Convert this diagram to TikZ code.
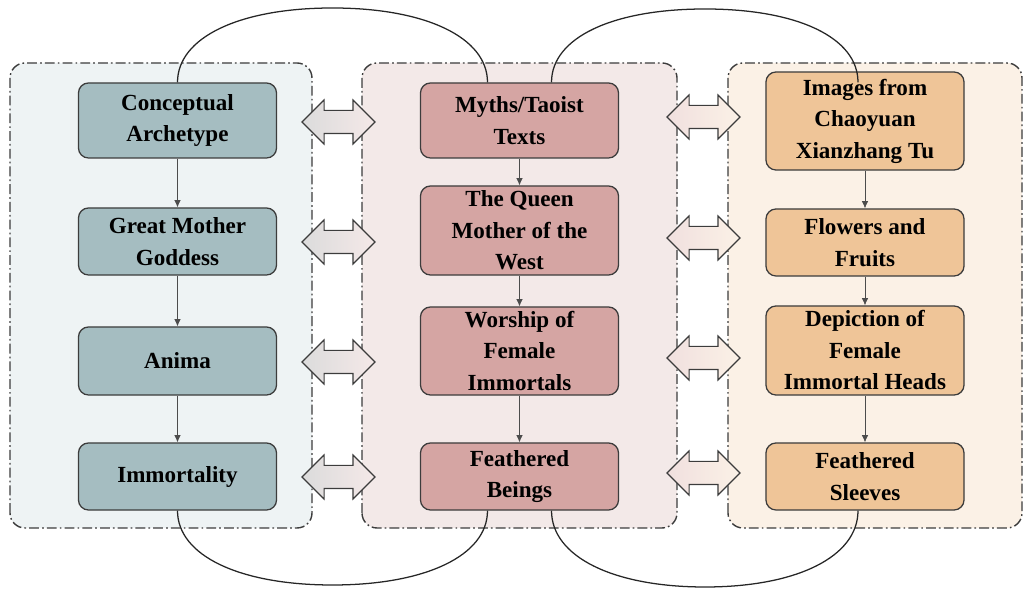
\documentclass[tikz,border=0pt]{standalone}
\usepackage{fontspec}
\setmainfont{Liberation Serif}
\usetikzlibrary{arrows.meta,shapes.arrows,calc}

\definecolor{leftbox}{HTML}{A5BDC1}
\definecolor{leftbg}{HTML}{EEF3F4}
\definecolor{midbox}{HTML}{D5A5A3}
\definecolor{midbg}{HTML}{F3E9E8}
\definecolor{rightbox}{HTML}{EFC598}
\definecolor{rightbg}{HTML}{FBF1E6}
\definecolor{edgegray}{HTML}{3C3C3C}

\tikzset{
    panel/.style={draw=edgegray, line width=1pt, rounded corners=0.375cm,
        dash pattern=on 7pt off 2.2pt on 1.2pt off 2.2pt},
    stage/.style={draw=edgegray, line width=0.9pt, rounded corners=0.25cm,
        align=center, inner sep=0pt, minimum width=4.95cm,
        font=\bfseries\fontsize{16.4pt}{22.4pt}\selectfont},
    link/.style={double arrow, draw=edgegray, line width=0.8pt,
        inner xsep=0pt, inner ysep=0.275cm, minimum height=1.825cm,
        double arrow head extend=0.2625cm},
    flow/.style={draw=black!70, line width=0.5pt, -{Latex[length=0.18cm,width=0.16cm]}},
    loop/.style={draw=black!85, line width=0.9pt}
}

\begin{document}
\begin{tikzpicture}[x=0.025cm, y=0.025cm]
        \useasboundingbox (0,0) rectangle (1027,590);
        % three dash-dot panels
        \draw[panel, fill=leftbg] (10,62) rectangle (312,527);
        \draw[panel, fill=midbg] (362,62) rectangle (677,527);
        \draw[panel, fill=rightbg] (728,62) rectangle (1022,527);

        % left column
        \node[stage, fill=leftbox, minimum height=1.875cm] (archetype) at (177.5,469.5) {Conceptual\\Archetype};
        \node[stage, fill=leftbox, minimum height=1.675cm] (goddess) at (177.5,348.5) {Great Mother\\Goddess};
        \node[stage, fill=leftbox, minimum height=1.7cm] (anima) at (177.5,229) {Anima};
        \node[stage, fill=leftbox, minimum height=1.675cm] (immortality) at (177.5,113.5) {Immortality};

        % middle column
        \node[stage, fill=midbox, minimum height=1.875cm] (myths) at (519.5,469.5) {Myths/Taoist\\Texts};
        \node[stage, fill=midbox, minimum height=2.225cm] (queen) at (519.5,359.5) {The Queen\\Mother of the\\West};
        \node[stage, fill=midbox, minimum height=2.2cm] (worship) at (519.5,239) {Worship of\\Female\\Immortals};
        \node[stage, fill=midbox, minimum height=1.675cm] (beings) at (519.5,113.5) {Feathered\\Beings};

        % right column
        \node[stage, fill=rightbox, minimum height=2.45cm] (images) at (865,469) {Images from\\Chaoyuan\\Xianzhang Tu};
        \node[stage, fill=rightbox, minimum height=1.675cm] (flowers) at (865,347.5) {Flowers and\\Fruits};
        \node[stage, fill=rightbox, minimum height=2.225cm] (heads) at (865,239.5) {Depiction of\\Female\\Immortal Heads};
        \node[stage, fill=rightbox, minimum height=1.675cm] (sleeves) at (865,113.5) {Feathered\\Sleeves};

        % Draw the double arrows
        \node[link, left color=gray!28, middle color=white, right color=midbox!25] (la) at (338.5,468) {};
        \node[link, left color=gray!28, middle color=white, right color=midbox!25] (lb) at (338.5,348) {};
        \node[link, left color=gray!28, middle color=white, right color=midbox!25] (lc) at (338.5,228) {};
        \node[link, left color=gray!28, middle color=white, right color=midbox!25] (ld) at (338.5,113) {};
        \node[link, left color=midbox!35, middle color=white, right color=rightbg] (ra) at (703.5,473) {};
        \node[link, left color=midbox!35, middle color=white, right color=rightbg] (rb) at (703.5,352) {};
        \node[link, left color=midbox!35, middle color=white, right color=rightbg] (rc) at (703.5,232) {};
        \node[link, left color=midbox!35, middle color=white, right color=rightbg] (rd) at (703.5,117) {};

        % Draw the flow inside each column
        \draw[flow] (archetype) -- (goddess);
        \draw[flow] (goddess) -- (anima);
        \draw[flow] (anima) -- (immortality);
        \draw[flow] (myths) -- (queen);
        \draw[flow] (queen) -- (worship);
        \draw[flow] (worship) -- (beings);
        \draw[flow] (images) -- (flowers);
        \draw[flow] (flowers) -- (heads);
        \draw[flow] (heads) -- (sleeves);

        % arcs over and under the panels
        \coordinate (topa) at (332.5,582);
        \coordinate (topb) at (705,581);
        \coordinate (bota) at (332.5,5);
        \coordinate (botb) at (705,3);
        \draw[loop] (archetype.north) .. controls +(0,45) and +(-93,0) .. (topa)
            .. controls +(93,0) and +(0,45) .. ([xshift=-0.8cm]myths.north);
        \draw[loop] ([xshift=0.8cm]myths.north) .. controls +(0,45) and +(-92,0) .. (topb)
            .. controls +(92,0) and +(0,45) .. ($(images.north)+(-7,-11)$);
        \draw[loop] (immortality.south) .. controls +(0,-45) and +(-93,0) .. (bota)
            .. controls +(93,0) and +(0,-45) .. ([xshift=-0.8cm]beings.south);
        \draw[loop] ([xshift=0.8cm]beings.south) .. controls +(0,-46) and +(-92,0) .. (botb)
            .. controls +(92,0) and +(0,-46) .. ([xshift=-0.175cm]sleeves.south);
\end{tikzpicture}
\end{document}
